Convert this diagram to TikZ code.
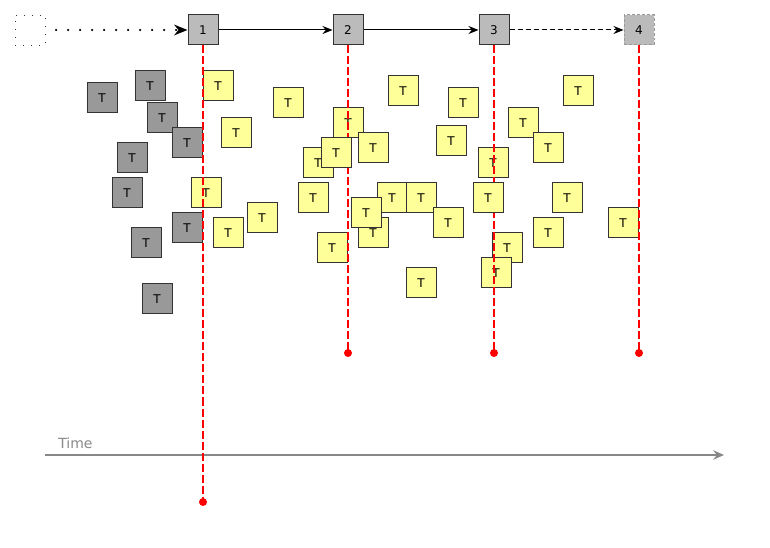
\documentclass[tikz,border=0pt]{standalone}
\usepackage{fontspec}
\setmainfont{DejaVu Sans}
\usetikzlibrary{arrows.meta}
\definecolor{boxline}{HTML}{333333}
\definecolor{oldgray}{HTML}{999999}
\definecolor{topgray}{HTML}{BBBBBB}
\definecolor{tyellow}{HTML}{FFFF99}
\definecolor{axisgray}{HTML}{888888}
\tikzset{
  sq/.style={draw=boxline, line width=0.75pt, minimum width=22.5pt, minimum height=22.5pt, inner sep=0pt, font=\fontsize{9}{10}\selectfont},
  gtask/.style={sq, fill=oldgray},
  ytask/.style={sq, fill=tyellow},
  topbox/.style={sq, fill=topgray},
  futbox/.style={sq, fill=topgray, draw=oldgray, dash pattern=on 2.2pt off 1.5pt},
  startbox/.style={sq, draw=black!80, line width=0.6pt, dash pattern=on 0.6pt off 5.4pt, fill=none},
  redline/.style={draw=red, line width=1.5pt, dash pattern=on 6pt off 2.25pt},
  reddot/.style={fill=red},
  flow/.style={-{Stealth[length=7.5pt,width=6pt]}, line width=0.75pt},
}
\begin{document}
\begin{tikzpicture}[x=0.75pt, y=-0.75pt]
\useasboundingbox (0,0) rectangle (770,548);
% top row
\node[startbox] (s0) at (30,30) {};
\node[topbox] (n1) at (203,30) {1};
\node[topbox] (n2) at (348,30) {2};
\node[topbox] (n3) at (494,30) {3};
\node[futbox] (n4) at (639,30) {4};
\draw[line width=1.8pt, line cap=round, dash pattern=on 0pt off 9pt, -{Stealth[length=10pt,width=8pt]}] ([xshift=8pt]s0.east) -- (n1.west);
\draw[flow] (n1) -- (n2);
\draw[flow] (n2) -- (n3);
\draw[flow, dash pattern=on 4pt off 2pt] (n3) -- (n4);
% gray tasks
\node[gtask] (g1) at (102,98) {T};
\node[gtask] (g2) at (150,86) {T};
\node[gtask] (g3) at (162,118) {T};
\node[gtask] (g4) at (187,143) {T};
\node[gtask] (g5) at (132,158) {T};
\node[gtask] (g6) at (127,193) {T};
\node[gtask] (g7) at (187,228) {T};
\node[gtask] (g8) at (146,243) {T};
\node[gtask] (g9) at (157,299) {T};
% yellow tasks
\node[ytask] (y1) at (218,86) {T};
\node[ytask] (y2) at (236,133) {T};
\node[ytask] (y3) at (206,193) {T};
\node[ytask] (y4) at (262,218) {T};
\node[ytask] (y5) at (228,233) {T};
\node[ytask] (y6) at (288,103) {T};
\node[ytask] (y7) at (403,91) {T};
\node[ytask] (y8) at (463,103) {T};
\node[ytask] (y9) at (348,123) {T};
\node[ytask] (y10) at (451,141) {T};
\node[ytask] (y11) at (318,163) {T};
\node[ytask] (y12) at (373,148) {T};
\node[ytask] (y13) at (313,198) {T};
\node[ytask] (y14) at (392,198) {T};
\node[ytask] (y15) at (421,198) {T};
\node[ytask] (y16) at (448,223) {T};
\node[ytask] (y17) at (373,233) {T};
\node[ytask] (y18) at (366,213) {T};
\node[ytask] (y19) at (332,248) {T};
\node[ytask] (y20) at (421,283) {T};
\node[ytask] (y21) at (578,91) {T};
\node[ytask] (y22) at (523,123) {T};
\node[ytask] (y23) at (548,148) {T};
\node[ytask] (y24) at (493,163) {T};
\node[ytask] (y25) at (567,198) {T};
\node[ytask] (y26) at (548,233) {T};
\node[ytask] (y27) at (623,223) {T};
\node[ytask] (y28) at (507,248) {T};
\node[ytask] (y29) at (496,273) {T};
% time axis
\coordinate (ta) at (45,455);
\coordinate (tb) at (724,455);
\draw[axisgray, line width=1.5pt, -{Stealth[length=8pt,width=7pt]}] (ta) -- (tb);
\node[text=axisgray, font=\fontsize{10.5}{12}\selectfont, anchor=base west, inner sep=0pt] (tl) at (58,448) {Time};
% red lines
\coordinate (e1) at (203,502);
\coordinate (e2) at (348,353);
\coordinate (e3) at (494,353);
\coordinate (e4) at (639,353);
\draw[redline] (n1.south) -- (e1);
\draw[redline] (n2.south) -- (e2);
\draw[redline] (n3.south) -- (e3);
\draw[redline] (n4.south) -- (e4);
\fill[reddot] (e1) circle (3pt);
\fill[reddot] (e2) circle (3pt);
\fill[reddot] (e3) circle (3pt);
\fill[reddot] (e4) circle (3pt);
% tasks drawn over the lines
\node[ytask] (y30) at (336,153) {T};
\node[ytask] (y31) at (488,198) {T};
\end{tikzpicture}
\end{document}
